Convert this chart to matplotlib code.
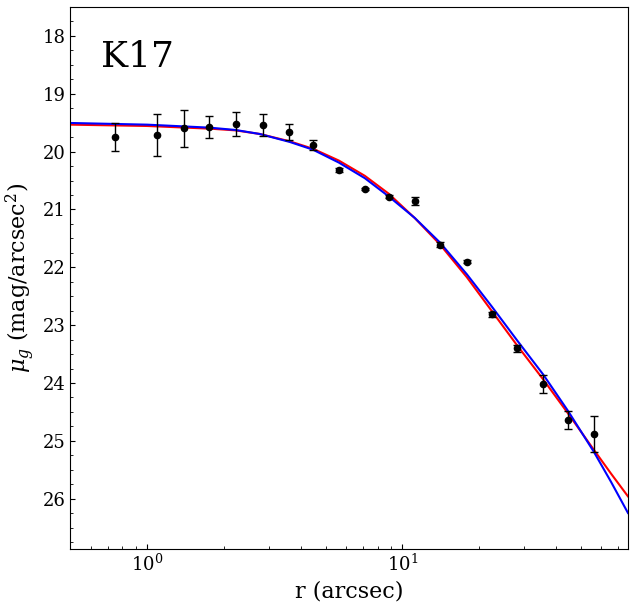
import numpy as np
import matplotlib
matplotlib.use('Agg')
import matplotlib.pyplot as plt
from matplotlib.ticker import MultipleLocator

plt.rcParams['font.family'] = 'DejaVu Serif'
plt.rcParams['mathtext.fontset'] = 'dejavuserif'

# observed profile
r_obs = [0.746, 1.09, 1.39, 1.74, 2.22, 2.84, 3.59, 4.46, 5.64, 7.13,
         8.85, 11.19, 14.03, 17.9, 22.4, 28.1, 35.6, 44.6, 56.3]
mu_obs = [19.75, 19.71, 19.60, 19.575, 19.52, 19.54, 19.66, 19.885, 20.315, 20.645,
          20.776, 20.85, 21.61, 21.90, 22.815, 23.40, 24.02, 24.64, 24.885]
mu_err = [0.24, 0.36, 0.325, 0.195, 0.205, 0.185, 0.14, 0.08, 0.03, 0.02,
          0.02, 0.07, 0.04, 0.03, 0.04, 0.065, 0.155, 0.16, 0.31]

# model curves
r_mod = [0.50, 1.00, 1.76, 2.22, 2.76, 3.62, 4.46, 5.64, 7.13, 8.85,
         11.19, 14.03, 17.90, 22.44, 28.12, 35.6, 44.6, 56.3, 65.7, 76.6]
mu_red = [19.534, 19.557, 19.603, 19.633, 19.695, 19.822, 19.95, 20.155, 20.419, 20.729,
          21.15, 21.603, 22.172, 22.759, 23.345, 23.935, 24.526, 25.155, 25.565, 25.960]
mu_blue = [19.505, 19.534, 19.586, 19.626, 19.695, 19.833, 19.966, 20.19, 20.46, 20.776,
           21.147, 21.57, 22.121, 22.681, 23.259, 23.85, 24.483, 25.19, 25.707, 26.247]

fig = plt.figure(figsize=(6.34, 6.08), dpi=100)
ax = fig.add_axes([0.111, 0.097, 0.8795, 0.8915])

ax.plot(r_mod, mu_red, color='red', lw=1.5)
ax.plot(r_mod, mu_blue, color='blue', lw=1.5)
ax.errorbar(r_obs, mu_obs, yerr=mu_err, fmt='o', color='black', ms=4.5,
            elinewidth=1, capsize=3, zorder=3)

ax.set_xscale('log')
ax.set_xlim(0.5, 76.6)
ax.set_ylim(26.87, 17.5)
ax.yaxis.set_major_locator(MultipleLocator(1))
ax.yaxis.set_minor_locator(MultipleLocator(0.25))
ax.tick_params(which='both', direction='in', labelsize=13)

ax.text(0.055, 0.89, 'K17', transform=ax.transAxes, fontsize=26)
ax.set_xlabel('r (arcsec)', fontsize=16)
ax.set_ylabel(r'$\mu_g$ (mag/arcsec$^2$)', fontsize=16)

fig.savefig('out.png', dpi=100)
